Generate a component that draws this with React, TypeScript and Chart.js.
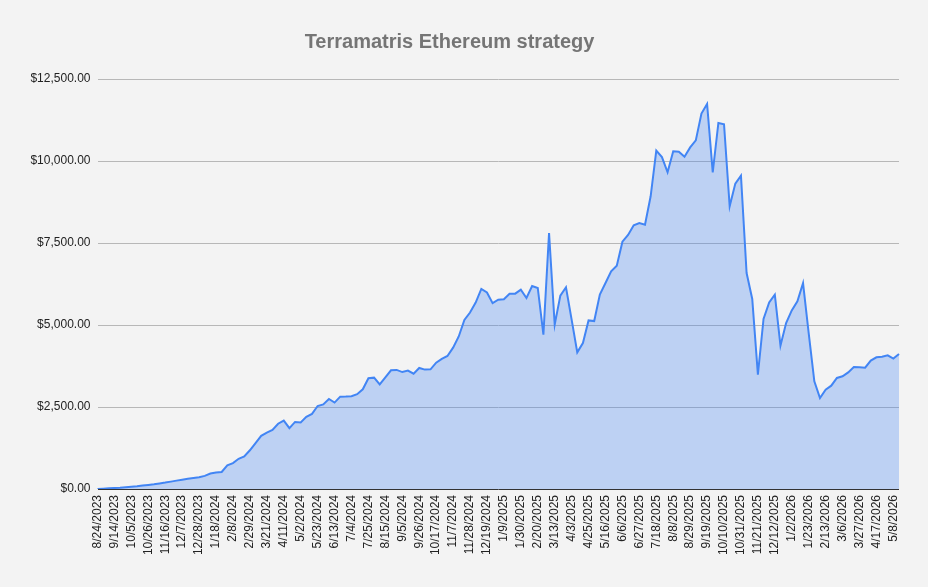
import { useEffect, useRef } from "react";
import { Chart, registerables } from "chart.js";

Chart.register(...registerables);

// weekly portfolio value (USD)
const values2023 = [
  0, 10, 20, 30, 40, 55, 70, 85, 105, 125, 145, 170, 195, 225, 255, 285, 310, 335, 360,
];
const values2024 = [
  400, 470, 500, 520, 720, 790, 920, 990, 1180, 1400, 1620, 1720, 1800,
  1990, 2085, 1855, 2045, 2030, 2200, 2290, 2530, 2580, 2745, 2635, 2815,
  2820, 2830, 2890, 3040, 3375, 3395, 3190, 3405, 3620, 3630, 3565, 3610,
  3515, 3690, 3640, 3650, 3850, 3965, 4055, 4310, 4650, 5155, 5380, 5685,
  6100, 5990, 5665,
];
const values2025 = [
  5770, 5785, 5955, 5955, 6080, 5825, 6190, 6130, 4705, 7805, 5010, 5895,
  6150, 5165, 4165, 4450, 5140, 5120, 5925, 6280, 6635, 6810, 7540, 7745,
  8040, 8110, 8060, 8925, 10315, 10120, 9655, 10295, 10285, 10130, 10415,
  10630, 11445, 11740, 9655, 11160, 11120, 8620, 9310, 9555, 6585, 5795,
  3485, 5185, 5690, 5925, 4370, 5060,
];
const values2026 = [
  5445, 5720, 6280, 4750, 3285, 2775, 3030, 3150, 3385, 3435, 3555, 3720,
  3710, 3700, 3915, 4015, 4035, 4075, 3975, 4115,
];

const values = [...values2023, ...values2024, ...values2025, ...values2026];

// weekly dates starting 8/24/2023; the series moves from Thursday to Friday after 4/3/2025
const firstDate = "2023-08-24";
const shiftAfter = "4/3/2025";

function buildDates(count: number): string[] {
  const d = new Date(firstDate + "T00:00:00Z");
  const out: string[] = [];
  for (let i = 0; i < count; i++) {
    const s = `${d.getUTCMonth() + 1}/${d.getUTCDate()}/${d.getUTCFullYear()}`;
    out.push(s);
    d.setUTCDate(d.getUTCDate() + (s === shiftAfter ? 8 : 7));
  }
  return out;
}

const dates = buildDates(values.length);

const yTicks = [0, 2500, 5000, 7500, 10000, 12500];

const FONT = "'Liberation Sans', Arial, sans-serif";

function money(v: number) {
  return "$" + v.toLocaleString("en-US", { minimumFractionDigits: 2, maximumFractionDigits: 2 });
}

function StrategyChart() {
  const canvasRef = useRef<HTMLCanvasElement>(null);
  const chartRef = useRef<Chart | null>(null);

  useEffect(() => {
    if (!canvasRef.current) return;
    const ctx = canvasRef.current.getContext("2d");
    if (!ctx) return;

    if (chartRef.current) chartRef.current.destroy();

    chartRef.current = new Chart(ctx, {
      type: "line",
      data: {
        labels: dates,
        datasets: [
          {
            data: values,
            borderColor: "#4285f4",
            backgroundColor: "rgba(66,133,244,0.3)",
            borderWidth: 2,
            pointRadius: 0,
            tension: 0,
            fill: "origin",
          },
        ],
      },
      options: {
        animation: false,
        responsive: true,
        maintainAspectRatio: false,
        layout: { padding: { left: 0, right: 29, top: 0, bottom: 0 } },
        plugins: {
          legend: { display: false },
          tooltip: { enabled: false },
          title: {
            display: true,
            text: "Terramatris Ethereum strategy",
            color: "#757575",
            font: { family: FONT, size: 20, weight: "bold" },
            padding: { top: 30, bottom: 25 },
          },
        },
        scales: {
          x: {
            grid: { display: false, drawTicks: false },
            border: { display: false },
            afterFit: (scale: any) => {
              scale.height = 98;
            },
            ticks: {
              autoSkip: false,
              minRotation: 90,
              maxRotation: 90,
              padding: 6,
              color: "#222222",
              font: { family: FONT, size: 12 },
              callback: function (this: any, value: any, index: number) {
                return index % 3 === 0 ? this.getLabelForValue(value) : null;
              },
            },
          },
          y: {
            min: 0,
            max: 12500,
            afterFit: (scale: any) => {
              scale.width = 97.5;
            },
            afterBuildTicks: (scale: any) => {
              scale.ticks = yTicks.map((v) => ({ value: v }));
            },
            border: { display: false },
            grid: {
              drawTicks: false,
              lineWidth: 1,
              color: (c: any) => (c.tick && c.tick.value === 0 ? "#333333" : "#b7b7b7"),
            },
            ticks: {
              padding: 7,
              color: "#222222",
              font: { family: FONT, size: 12 },
              callback: (v: any) => money(Number(v)),
            },
          },
        },
      },
    });

    return () => {
      if (chartRef.current) {
        chartRef.current.destroy();
        chartRef.current = null;
      }
    };
  }, []);

  return <canvas ref={canvasRef} />;
}

export default function App() {
  return (
    <div
      style={{
        position: "absolute",
        left: 0,
        top: 0,
        width: 928,
        height: 587,
        background: "#f3f3f3",
      }}
    >
      <StrategyChart />
    </div>
  );
}
